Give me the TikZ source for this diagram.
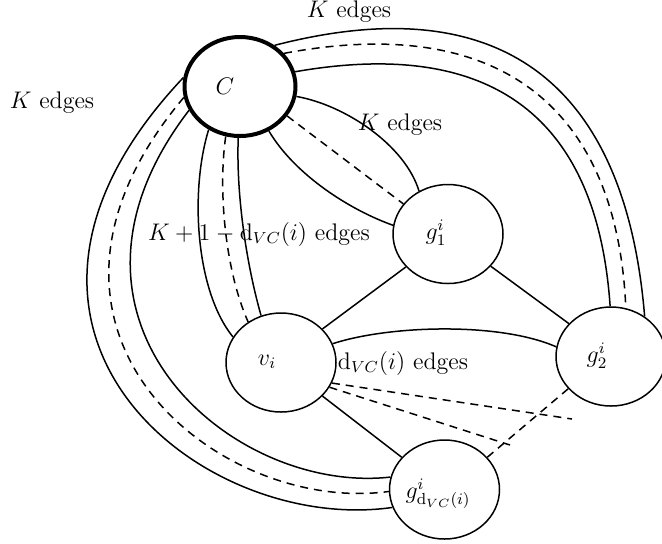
\documentclass[tikz,border=0pt]{standalone}
\usetikzlibrary{shapes.geometric}
\begin{document}
\begin{tikzpicture}[x=0.5pt,y=-0.5pt,
  vtx/.style={draw, ellipse, line width=0.75pt, minimum width=55pt, minimum height=49.5pt, inner sep=0pt},
  cvtx/.style={vtx, line width=2pt, minimum width=55.5pt},
  lbl/.style={font=\large, inner sep=0pt},
  edge/.style={line width=0.75pt},
  dedge/.style={edge, dash pattern=on 4pt off 3pt},
]
\useasboundingbox (0,0) rectangle (662,543);
% vertices
\node[cvtx] (C) at (240,86.5) {};
\node[vtx] (g1) at (448,234) {};
\node[vtx] (v) at (281,362.5) {};
\node[vtx] (g2) at (611,356.5) {};
\node[vtx] (gd) at (444.5,489.5) {};
\node[lbl] (tC) at (225,86) {$C$};
\node[lbl] (tg1) at (436,233) {$g^i_1$};
\node[lbl] (tv) at (267,362) {$v_i$};
\node[lbl] (tg2) at (597,356) {$g^i_2$};
\node[lbl] (tgd) at (438,494) {$g^i_{\mathrm{d}_{VC}(i)}$};
% C -- g2 (top)
\draw[edge] (C.50) .. controls (527,-20) and (628,113) .. (g2.50);
\draw[dedge] (C.37) .. controls (515,10) and (618,123) .. (g2.73);
\draw[edge] (C.15) .. controls (505,35) and (598,130) .. (g2.91);
% C -- gd (left)
\draw[edge] (C.171) .. controls (-55,330) and (200,535) .. (gd.199);
\draw[dedge] (C.191) .. controls (-12,330) and (218,515) .. (gd.182);
\draw[edge] (C.205) .. controls (28,320) and (232,495) .. (gd.167);
% C -- v
\draw[edge] (C.234) .. controls (190,190) and (195,290) .. (v.152);
\draw[dedge] (C.254) .. controls (218,190) and (225,270) .. (v.129);
\draw[edge] (C.268) .. controls (236,200) and (248,270) .. (v.113);
% C -- g1
\draw[edge] (C.-10) .. controls (345,105) and (405,145) .. (g1.124);
\draw[dedge] (C.-32) -- (g1.146);
\draw[edge] (C.-57) .. controls (295,175) and (350,210) .. (g1.171);
% gadget edges
\draw[edge] (g1.218) -- (v.39);
\draw[edge] (g1.-37) -- (g2.142);
\draw[edge] (v.20) .. controls (390,325) and (500,322) .. (g2.170);
\draw[edge] (v.-39) -- (gd.143);
\coordinate (e1) at (572,419);
\coordinate (e2) at (510,445);
\draw[dedge] (v.-22) -- (e1);
\draw[dedge] (v.-27) -- (e2);
\draw[dedge] (gd.37) -- (g2.217);
% labels
\node[lbl] (l1) at (349,12) {$K$ edges};
\node[lbl] (l2) at (52,103) {$K$ edges};
\node[lbl] (l3) at (400,125) {$K$ edges};
\node[lbl] (l4) at (259,234) {$K+1-\mathrm{d}_{VC}(i)$ edges};
\node[lbl] (l5) at (403,363) {$\mathrm{d}_{VC}(i)$ edges};
\end{tikzpicture}
\end{document}
